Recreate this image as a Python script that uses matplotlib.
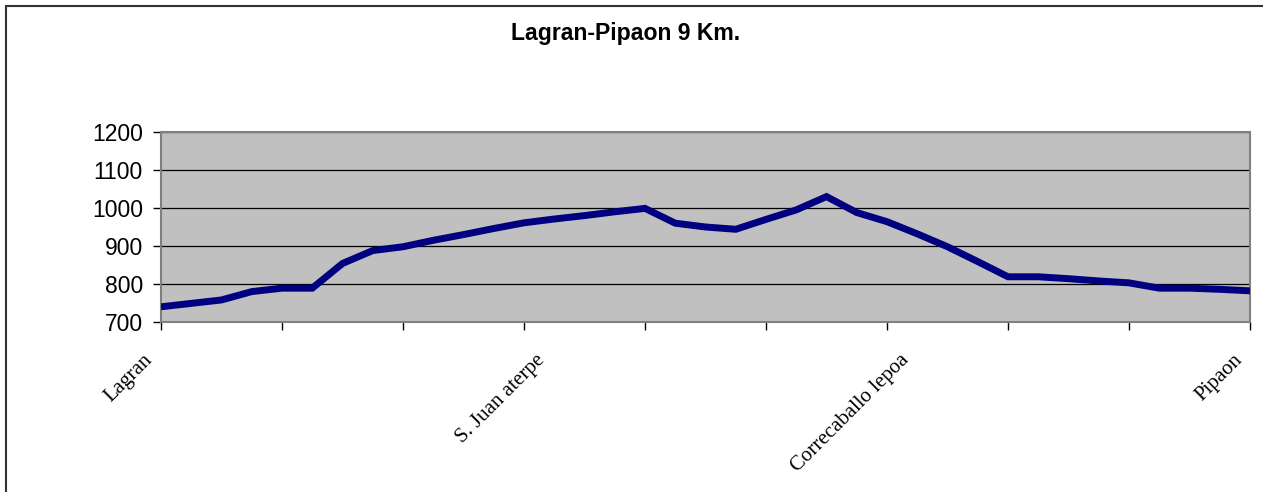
import matplotlib
matplotlib.use("Agg")
import matplotlib.pyplot as plt
from matplotlib.patches import Rectangle
from matplotlib.transforms import blended_transform_factory, ScaledTranslation

# ---- data ----
elevation = [740, 749, 758, 780, 789, 789, 854, 888, 898, 915, 930, 946, 961,
             971, 980, 990, 999, 960, 950, 944, 970, 995, 1030, 988, 964, 932,
             898, 859, 819, 819, 814, 808, 803, 789, 789, 786, 782]
place_index = [0, 12, 24, 36]
place_names = ["Lagran", "S. Juan aterpe", "Correcaballo lepoa", "Pipaon"]
y_ticks = [700, 800, 900, 1000, 1100, 1200]
title = "Lagran-Pipaon 9 Km."

# ---- style ----
W, H, DPI = 1263, 492, 100
label_dx_px = [-18, 11, 13, -17]
label_dy_px = -29

fig = plt.figure(figsize=(W / DPI, H / DPI), dpi=DPI)
fig.patch.set_facecolor("white")

ax = fig.add_axes([161 / W, 1 - 322 / H, (1250 - 161) / W, (322 - 132) / H])
x = list(range(len(elevation)))
ax.set_facecolor("#C0C0C0")
ax.yaxis.grid(True, color="black", lw=0.9)
ax.set_axisbelow(True)
ax.plot(x, elevation, color="#000080", lw=5.0, solid_joinstyle="miter",
        solid_capstyle="butt", zorder=3)
ax.set_xlim(0, len(elevation) - 1)
ax.set_ylim(min(y_ticks), max(y_ticks))

for s in ax.spines.values():
    s.set_color("#808080")
    s.set_linewidth(1.5)

ax.set_xticks(range(0, len(elevation), 4))
ax.set_xticklabels([])
ax.set_yticks(y_ticks)
ax.set_yticklabels([str(v) for v in y_ticks], fontfamily="Liberation Sans", fontsize=16.5)
ax.tick_params(axis="both", direction="out", color="black", width=1.0, length=6)
ax.tick_params(axis="y", pad=7)

trans = blended_transform_factory(ax.transData, ax.transAxes)
for idx, name, dx in zip(place_index, place_names, label_dx_px):
    t = trans + ScaledTranslation(dx / DPI, label_dy_px / DPI, fig.dpi_scale_trans)
    ax.text(idx, 0, name, transform=t, rotation=45, rotation_mode="anchor",
            ha="right", va="top", fontfamily="Liberation Serif", fontsize=15,
            color="black", clip_on=False)

fig.text(626 / W, 1 - 33 / H, title, ha="center", va="center",
         fontfamily="Liberation Sans", fontweight="bold", fontsize=16.6)

fig.patches.append(Rectangle((6 / W, -0.5), 1.5, 0.5 + 1 - 5.5 / H,
                             transform=fig.transFigure, fill=False,
                             edgecolor="#333333", lw=1.5))

fig.savefig("out.png", dpi=DPI)
